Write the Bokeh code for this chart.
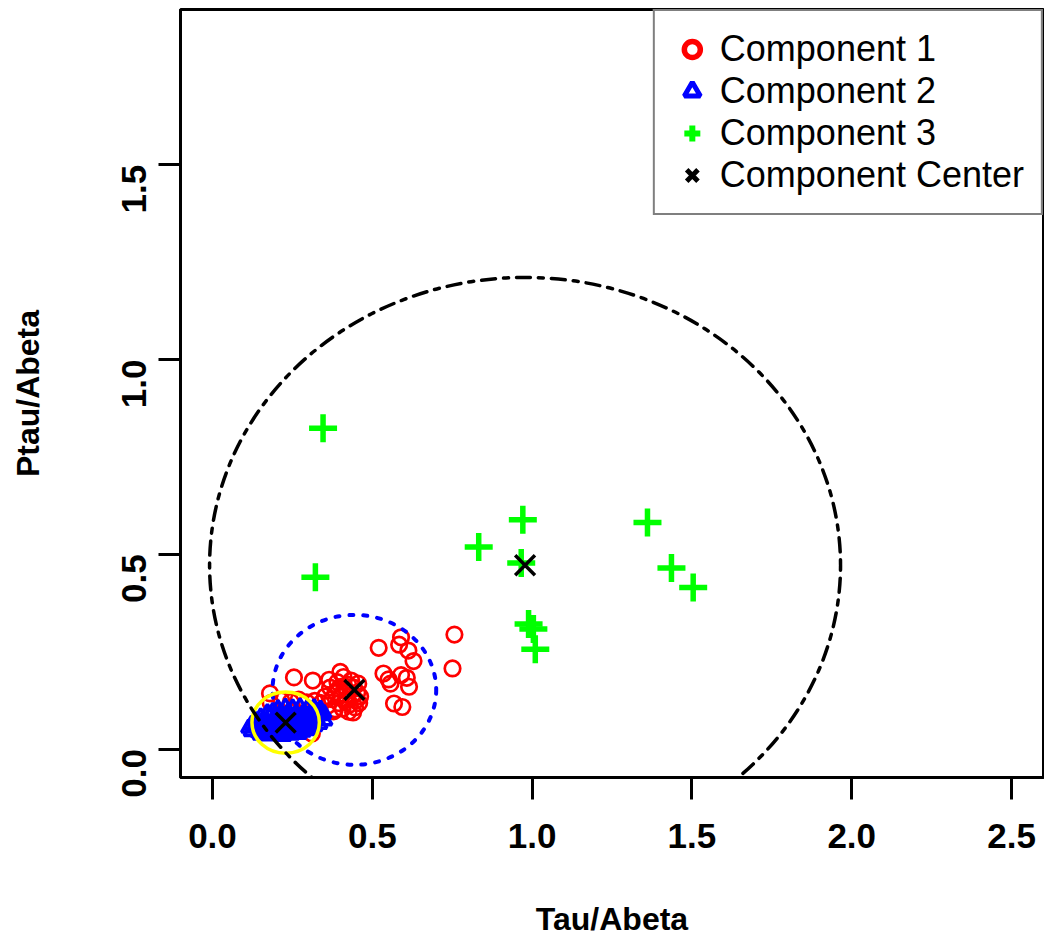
import math
from bokeh.plotting import figure
from bokeh.models import Range1d, FixedTicker, PrintfTickFormatter, Legend, LegendItem
from bokeh.embed import file_html
from bokeh.resources import INLINE

# ---------------- data ----------------
comp1_x = [0.757, 0.751, 0.520, 0.590, 0.584, 0.613, 0.629, 0.535, 0.551, 0.557,
           0.590, 0.608, 0.615, 0.568, 0.594, 0.400, 0.255, 0.314, 0.180, 0.311,
           0.352, 0.361, 0.368, 0.374, 0.379, 0.385, 0.391, 0.396, 0.402, 0.407,
           0.412, 0.417, 0.421, 0.426, 0.430, 0.434, 0.438, 0.442, 0.446, 0.449,
           0.453, 0.456, 0.459, 0.462, 0.365, 0.383, 0.410, 0.440, 0.395, 0.425,
           0.182, 0.215, 0.245, 0.270, 0.295, 0.320, 0.340]
comp1_y = [0.294, 0.207, 0.260, 0.287, 0.268, 0.253, 0.226, 0.194, 0.179, 0.168,
           0.190, 0.183, 0.160, 0.117, 0.108, 0.198, 0.184, 0.176, 0.143, 0.040,
           0.135, 0.112, 0.158, 0.128, 0.097, 0.146, 0.172, 0.118, 0.138, 0.104,
           0.162, 0.127, 0.149, 0.096, 0.115, 0.176, 0.138, 0.158, 0.107, 0.125,
           0.145, 0.168, 0.118, 0.135, 0.178, 0.102, 0.185, 0.094, 0.155, 0.165,
           0.118, 0.125, 0.121, 0.127, 0.120, 0.124, 0.118]

comp2_x = [0.205, 0.228, 0.251, 0.274, 0.297, 0.318, 0.338,
           0.172, 0.189, 0.214, 0.238, 0.262, 0.286, 0.309, 0.331, 0.349,
           0.151, 0.178, 0.198, 0.223, 0.247, 0.271, 0.294, 0.316, 0.341,
           0.134, 0.158, 0.186, 0.207, 0.232, 0.256, 0.281, 0.303, 0.327, 0.352,
           0.122, 0.143, 0.166, 0.194, 0.217, 0.241, 0.266, 0.289, 0.312, 0.336,
           0.113, 0.131, 0.154, 0.179, 0.203, 0.228, 0.252, 0.276, 0.299, 0.321,
           0.121, 0.142, 0.163, 0.188, 0.212, 0.236, 0.261, 0.284, 0.306,
           0.149, 0.174, 0.199, 0.223, 0.248, 0.271]
comp2_y = [0.104, 0.108, 0.106, 0.109, 0.105, 0.107, 0.103,
           0.094, 0.097, 0.095, 0.098, 0.093, 0.096, 0.094, 0.097, 0.092,
           0.083, 0.086, 0.084, 0.087, 0.082, 0.085, 0.088, 0.083, 0.086,
           0.074, 0.076, 0.073, 0.077, 0.075, 0.072, 0.076, 0.074, 0.078, 0.073,
           0.064, 0.066, 0.063, 0.067, 0.065, 0.062, 0.066, 0.063, 0.067, 0.064,
           0.054, 0.057, 0.053, 0.056, 0.054, 0.057, 0.053, 0.056, 0.054, 0.058,
           0.045, 0.043, 0.046, 0.044, 0.047, 0.043, 0.046, 0.044, 0.048,
           0.036, 0.034, 0.037, 0.033, 0.036, 0.038]

comp3_x = [0.346, 0.322, 0.833, 0.971, 0.966, 1.361, 1.436, 1.504, 0.989, 1.004, 1.010]
comp3_y = [0.824, 0.441, 0.519, 0.589, 0.478, 0.582, 0.465, 0.415, 0.321, 0.308, 0.256]

center_x = [0.444, 0.229, 0.978]
center_y = [0.152, 0.068, 0.472]
ellipse_w = [0.512, 0.211, 1.974]
ellipse_h = [0.385, 0.157, 1.478]

x_ticks = [0.0, 0.5, 1.0, 1.5, 2.0, 2.5]
y_ticks = [0.0, 0.5, 1.0, 1.5]
legend_labels = ["Component 1", "Component 2", "Component 3", "Component Center"]

FONT = "Liberation Sans"

p = figure(width=1044, height=941,
           x_range=Range1d(-0.1, 2.6), y_range=Range1d(-0.073, 1.899),
           output_backend="svg", toolbar_location=None,
           min_border_left=180, min_border_right=1,
           min_border_top=9, min_border_bottom=164)
p.grid.visible = False
p.background_fill_color = "white"
p.border_fill_color = "white"
p.outline_line_color = "black"
p.outline_line_width = 3

for ax in (p.xaxis[0], p.yaxis[0]):
    ax.formatter = PrintfTickFormatter(format="%.1f")
    ax.axis_line_color = "black"
    ax.axis_line_width = 3
    ax.major_tick_in = 0
    ax.major_tick_out = 22
    ax.major_tick_line_width = 3
    ax.major_tick_line_color = "black"
    ax.minor_tick_line_color = None
    ax.major_label_text_font = FONT
    ax.major_label_text_font_style = "bold"
    ax.major_label_text_font_size = "35px"
    ax.major_label_text_color = "black"
    ax.axis_label_text_font = FONT
    ax.axis_label_text_font_style = "bold"
    ax.axis_label_text_font_size = "32px"
    ax.axis_label_text_color = "black"

p.xaxis.ticker = FixedTicker(ticks=x_ticks)
p.yaxis.ticker = FixedTicker(ticks=y_ticks)
p.xaxis.major_label_standoff = 24
p.yaxis.major_label_standoff = 24
p.yaxis.major_label_orientation = math.pi / 2
p.xaxis.axis_label = "Tau/Abeta"
p.yaxis.axis_label = "Ptau/Abeta"
p.xaxis.axis_label_standoff = 50
p.yaxis.axis_label_standoff = 62

# points
r1 = p.scatter(comp1_x, comp1_y, marker="circle", size=15.5, fill_color=None,
               line_color="#FF0000", line_width=2.7)
r2 = p.scatter(comp2_x, comp2_y, marker="triangle", size=14, fill_color=None,
               line_color="#0000FF", line_width=3.5)
r3 = p.scatter(comp3_x, comp3_y, marker="cross", size=28,
               line_color="#00FF00", line_width=5.5)

# component ellipses
p.ellipse(x=center_x[0:1], y=center_y[0:1], width=ellipse_w[0:1], height=ellipse_h[0:1],
          fill_color=None, line_color="#0000FF", line_width=4, line_dash="4 10", line_cap="round")
p.ellipse(x=center_x[1:2], y=center_y[1:2], width=ellipse_w[1:2], height=ellipse_h[1:2],
          fill_color=None, line_color="#FFFF00", line_width=3.5)
p.ellipse(x=center_x[2:3], y=center_y[2:3], width=ellipse_w[2:3], height=ellipse_h[2:3],
          fill_color=None, line_color="black", line_width=3.5, line_dash="5 8 14 8", line_cap="round")

r4 = p.scatter(center_x, center_y, marker="x", size=28, line_color="black", line_width=3.5)

# legend-only renderers (same data, hidden) with heavier strokes
l1 = p.scatter(comp1_x, comp1_y, marker="circle", size=14, fill_color=None,
               line_color="#FF0000", line_width=5.5, visible=False)
l2 = p.scatter(comp2_x, comp2_y, marker="triangle", size=14, fill_color=None,
               line_color="#0000FF", line_width=5, visible=False)
l3 = p.scatter(comp3_x, comp3_y, marker="cross", size=28,
               line_color="#00FF00", line_width=6, visible=False)
l4 = p.scatter(center_x, center_y, marker="x", size=28, line_color="black",
               line_width=5, visible=False)

legend = Legend(items=[LegendItem(label=legend_labels[0], renderers=[l1]),
                       LegendItem(label=legend_labels[1], renderers=[l2]),
                       LegendItem(label=legend_labels[2], renderers=[l3]),
                       LegendItem(label=legend_labels[3], renderers=[l4])],
                location="top_right", margin=0, padding=17, spacing=0,
                glyph_width=40, glyph_height=40, label_height=40, label_standoff=8,
                label_text_font=FONT, label_text_font_size="36px", label_text_color="black",
                border_line_color="black", border_line_width=2,
                background_fill_color="white", background_fill_alpha=1,
                inactive_fill_alpha=0)
p.add_layout(legend)

open("out.html", "w").write(file_html(p, INLINE))
